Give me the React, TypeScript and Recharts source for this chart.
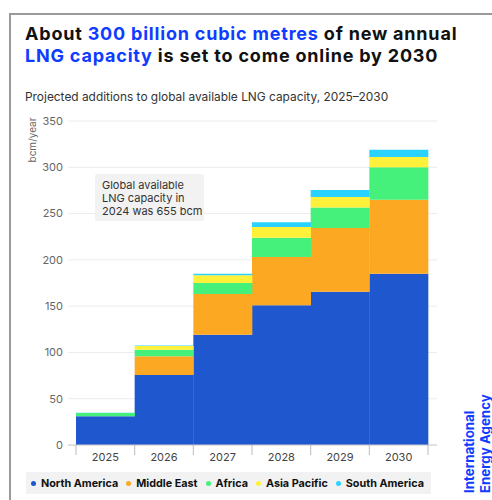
import React from 'react';
import { BarChart, Bar, XAxis, YAxis, CartesianGrid } from 'recharts';

const years = ['2025', '2026', '2027', '2028', '2029', '2030'];
const northAmerica = [31, 75.5, 119, 151, 165.5, 185];
const middleEast = [0, 20.5, 44, 52, 69, 80];
const africa = [3.5, 7, 12, 21, 22, 35];
const asiaPacific = [0, 4, 8.5, 11.5, 11.5, 11];
const southAmerica = [0.3, 0.5, 1.5, 5, 7.5, 8];
const yTicks = [0, 50, 100, 150, 200, 250, 300, 350];

const series = [
  { key: 'na', name: 'North America', color: '#1f57cf', values: northAmerica },
  { key: 'me', name: 'Middle East', color: '#fca823', values: middleEast },
  { key: 'af', name: 'Africa', color: '#45f07b', values: africa },
  { key: 'ap', name: 'Asia Pacific', color: '#fff03a', values: asiaPacific },
  { key: 'sa', name: 'South America', color: '#2ad2ff', values: southAmerica },
];

const data = years.map((year, i) => {
  const row: Record<string, number | string> = { year };
  series.forEach((s) => {
    row[s.key] = s.values[i];
  });
  return row;
});

const FONT = 'Inter, "Noto Sans", sans-serif';
const BLUE = '#0f3cff';

// category labels sit mid-band, tick marks sit on the band edges
function YearTick(props: any) {
  const { x, y, payload, index } = props;
  const half = payload?.offset ?? 0;
  const last = index === years.length - 1;
  return (
    <g>
      <line x1={x - half} x2={x - half} y1={y - 8} y2={y + 2} stroke="#bbb" />
      {last && <line x1={x + half} x2={x + half} y1={y - 8} y2={y + 2} stroke="#bbb" />}
      <text x={x} y={y + 8} textAnchor="middle" fontSize={11} fill="#444" fontFamily={FONT}>
        {payload.value}
      </text>
    </g>
  );
}

export default function App() {
  return (
    <div style={{ position: 'absolute', left: 0, top: 0, width: 492, height: 500, background: '#fff', overflow: 'hidden', fontFamily: FONT }}>
      <div style={{ position: 'absolute', left: 9, top: 13, width: 500, height: 500, borderLeft: '2px solid #9a9a9a', borderTop: '2px solid #9a9a9a' }} />
      <div style={{ position: 'absolute', left: 25, top: 23, fontSize: 18, lineHeight: '22px', letterSpacing: 0.8, fontWeight: 700, color: '#111', whiteSpace: 'nowrap' }}>
        About <span style={{ color: BLUE }}>300 billion cubic metres</span> of new annual
        <br />
        <span style={{ color: BLUE }}>LNG capacity</span> is set to come online by 2030
      </div>
      <div style={{ position: 'absolute', left: 25, top: 89, fontSize: 11.9, color: '#333', whiteSpace: 'nowrap' }}>
        Projected additions to global available LNG capacity, 2025–2030
      </div>
      <div style={{ position: 'absolute', left: 0, top: 0 }}>
        <BarChart width={492} height={500} data={data} margin={{ top: 121, right: 55, bottom: 0, left: 0 }} barCategoryGap={0}>
          <CartesianGrid vertical={false} stroke="#ececec" />
          <XAxis
            dataKey="year"
            height={55}
            padding={{ left: 8, right: 9 }}
            axisLine={{ stroke: '#ccc' }}
            tickLine={false}
            tick={<YearTick />}
            interval={0}
          />
          <YAxis
            width={68}
            domain={[0, 350]}
            ticks={yTicks}
            axisLine={false}
            tickLine={false}
            tickSize={3}
            tickMargin={2}
            tick={{ fontSize: 11, fill: '#666', fontFamily: FONT }}
          />
          {series.map((s) => (
            <Bar key={s.key} dataKey={s.key} name={s.name} stackId="a" fill={s.color} isAnimationActive={false} />
          ))}
        </BarChart>
      </div>
      <div style={{ position: 'absolute', left: 32, top: 140, transform: 'translate(-50%, -50%) rotate(-90deg)', fontSize: 10, color: '#666', whiteSpace: 'nowrap' }}>
        bcm/year
      </div>
      <div style={{ position: 'absolute', left: 95, top: 174, width: 109, height: 47, padding: '5px 7px', boxSizing: 'border-box', background: '#f2f2f2', borderRadius: 2, fontSize: 11, lineHeight: '13px', color: '#333', whiteSpace: 'nowrap' }}>
        Global available
        <br />
        LNG capacity in
        <br />
        2024 was 655 bcm
      </div>
      <div style={{ position: 'absolute', left: 26, top: 472, width: 405, height: 22, background: '#f2f2f2', display: 'flex', alignItems: 'center', paddingLeft: 5, boxSizing: 'border-box', fontSize: 10.8, fontWeight: 700, color: '#111', whiteSpace: 'nowrap' }}>
        {series.map((s) => (
          <span key={s.key} style={{ display: 'inline-flex', alignItems: 'center', marginRight: 8 }}>
            <span style={{ width: 5, height: 5, borderRadius: '50%', background: s.color, marginRight: 5 }} />
            {s.name}
          </span>
        ))}
      </div>
      <div style={{ position: 'absolute', left: 461, top: 493, transform: 'rotate(-90deg)', transformOrigin: '0 0', fontSize: 13.3, lineHeight: '16px', fontWeight: 700, color: BLUE, whiteSpace: 'nowrap' }}>
        International
        <br />
        Energy Agency
      </div>
    </div>
  );
}
